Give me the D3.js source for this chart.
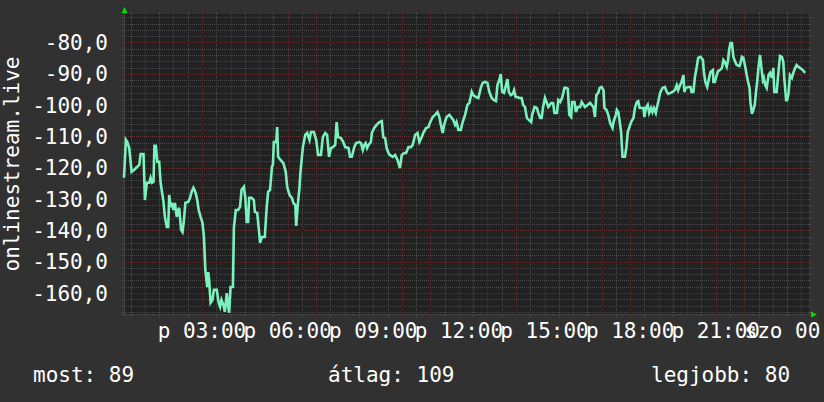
<!DOCTYPE html>
<html><head><meta charset="utf-8">
<script src="https://cdn.jsdelivr.net/npm/d3@7"></script>
<style>html,body{margin:0;padding:0;background:#313131;overflow:hidden}svg{display:block}</style>
</head><body>
<svg id="chart" width="824" height="402"></svg>
<script>
// ---- data (minutes since midnight, signal value) ----
const minutes = [16,20,23,27,32,37,44,48,51,57,60,64,69,72,75,78,80,83,86,90,93,99,102,106,109,111,114,116,120,123,127,130,132,136,139,142,145,151,155,158,162,166,170,173,177,181,184,187,191,193,195,198,202,205,211,215,218,221,225,228,232,235,237,240,245,247,251,256,260,263,268,271,274,277,279,284,289,291,296,300,302,306,312,316,319,323,327,329,331,336,338,340,345,351,356,359,364,369,372,376,378,381,385,387,392,397,401,406,409,415,420,424,430,434,439,443,447,451,455,460,463,466,472,477,481,488,491,495,500,504,511,514,518,521,524,527,530,535,537,542,547,553,558,561,565,568,572,575,581,586,591,596,600,605,609,614,619,623,628,633,637,642,645,651,656,659,665,670,675,679,682,686,689,694,700,705,708,712,715,719,724,728,733,738,742,747,750,756,761,766,770,775,780,784,789,794,798,801,805,808,811,815,819,822,825,829,833,836,839,843,847,852,855,859,863,867,872,874,879,884,887,891,894,897,901,905,908,914,918,921,926,929,933,937,942,946,949,952,956,958,963,966,970,975,978,982,985,991,996,999,1003,1006,1009,1013,1016,1020,1024,1026,1030,1034,1038,1043,1045,1050,1052,1055,1057,1061,1064,1069,1072,1075,1080,1083,1087,1090,1094,1097,1100,1104,1108,1110,1113,1117,1120,1124,1127,1130,1134,1136,1139,1143,1148,1153,1157,1160,1165,1169,1174,1178,1181,1185,1188,1192,1194,1197,1202,1207,1209,1213,1216,1220,1223,1228,1233,1235,1238,1242,1246,1249,1254,1255,1258,1262,1265,1269,1273,1276,1279,1283,1286,1288,1291,1294,1297,1301,1304,1310,1312,1315,1318,1322,1325,1328,1331,1333,1336,1339,1342,1345,1347,1350,1353,1356,1359,1361,1364,1367,1371,1374,1378,1381,1383,1388,1392,1395,1399,1402,1404,1408,1410,1413,1416,1420,1423,1427,1430,1434,1437,1443,1446,1448];
const values = [-123.2,-111.1,-111.8,-113.7,-121.3,-120.7,-119.7,-119.1,-115.6,-115.6,-130.3,-124.8,-124.8,-123.2,-124.8,-124.5,-113.0,-113.0,-118.1,-118.1,-124.8,-130.9,-135.7,-138.9,-138.9,-128.7,-132.5,-131.2,-133.5,-131.2,-135.7,-133.5,-132.8,-139.8,-140.5,-136.7,-131.2,-130.9,-129.6,-127.7,-126.4,-127.7,-130.3,-133.5,-135.7,-137.6,-142.1,-152.6,-158.1,-153.3,-155.8,-163.1,-162.2,-159.0,-159.0,-163.1,-164.4,-162.2,-163.8,-166.0,-160.0,-164.4,-166.3,-158.1,-158.1,-139.2,-133.5,-133.5,-132.5,-127.1,-126.1,-129.6,-137.3,-137.3,-129.6,-129.6,-130.3,-134.1,-134.4,-140.5,-144.0,-142.1,-142.1,-132.5,-127.7,-127.1,-119.7,-119.1,-111.8,-111.8,-107.0,-116.5,-117.5,-118.5,-121.3,-126.1,-128.7,-129.6,-131.2,-131.9,-138.6,-132.5,-126.1,-121.3,-113.4,-109.5,-108.9,-111.1,-108.6,-108.6,-111.1,-115.9,-115.9,-110.2,-108.9,-109.5,-116.5,-113.7,-113.4,-112.7,-105.4,-110.2,-110.5,-111.8,-113.4,-113.7,-116.5,-116.5,-113.4,-112.1,-111.8,-112.1,-114.3,-112.7,-112.1,-113.7,-112.7,-111.8,-108.9,-107.3,-106.3,-105.4,-105.1,-110.2,-110.5,-113.7,-115.3,-115.9,-116.5,-115.9,-117.5,-120.1,-115.9,-115.3,-115.3,-113.4,-113.4,-112.7,-109.5,-108.9,-111.8,-110.2,-108.9,-107.3,-107.0,-105.7,-103.8,-103.1,-102.2,-103.8,-106.3,-108.9,-106.3,-103.8,-103.1,-104.1,-104.7,-106.3,-105.4,-107.9,-107.9,-105.4,-103.1,-99.9,-99.3,-95.8,-96.8,-97.4,-97.7,-94.5,-92.9,-92.6,-92.9,-95.8,-97.7,-98.4,-98.7,-93.6,-92.0,-90.1,-95.8,-96.1,-93.6,-91.7,-95.8,-96.8,-96.4,-95.2,-97.4,-97.4,-97.7,-97.7,-99.9,-100.6,-104.1,-104.7,-105.4,-103.1,-100.6,-100.9,-102.5,-104.1,-104.1,-100.6,-97.7,-99.3,-100.6,-99.3,-99.3,-102.5,-102.5,-98.4,-99.0,-97.7,-94.5,-94.5,-94.8,-103.1,-103.8,-99.0,-99.0,-102.2,-100.6,-100.6,-99.0,-99.9,-100.6,-99.9,-99.3,-99.9,-100.6,-103.8,-96.8,-96.1,-94.5,-94.2,-95.2,-100.9,-101.5,-103.1,-105.7,-107.3,-105.4,-103.1,-101.5,-102.2,-104.1,-108.6,-116.5,-116.5,-113.7,-108.6,-106.3,-105.1,-104.1,-100.9,-99.0,-98.7,-100.9,-100.9,-100.9,-103.8,-100.9,-99.9,-102.5,-100.9,-102.2,-100.9,-102.5,-100.9,-99.0,-96.1,-94.5,-94.2,-95.8,-96.4,-96.1,-95.8,-95.2,-93.6,-95.2,-93.6,-92.6,-90.4,-95.8,-94.5,-94.2,-94.2,-95.8,-95.8,-91.3,-87.8,-84.9,-84.6,-85.6,-89.4,-92.6,-94.2,-91.3,-89.4,-88.8,-92.6,-92.6,-90.4,-89.1,-88.8,-88.1,-85.6,-86.2,-87.8,-85.6,-82.4,-80.2,-80.2,-84.6,-86.2,-87.2,-87.5,-86.5,-84.6,-84.9,-87.8,-90.4,-92.6,-94.5,-99.3,-102.8,-101.5,-99.9,-95.2,-92.6,-87.8,-84.0,-88.1,-92.0,-91.3,-93.6,-94.5,-90.4,-89.7,-91.3,-88.1,-95.8,-95.8,-89.1,-84.3,-84.6,-86.2,-91.3,-98.4,-98.4,-96.1,-90.4,-91.3,-89.7,-88.1,-87.2,-87.8,-88.1,-88.8,-89.4,-89.7];
const yTicks = [-80,-90,-100,-110,-120,-130,-140,-150,-160];
const xLabelMinutes = [180,360,540,720,900,1080,1260,1440];
const xLabels = ["p 03:00","p 06:00","p 09:00","p 12:00","p 15:00","p 18:00","p 21:00","szo 00:00"];
const yTitle = "onlinestream.live";
const legendNames = ["most","átlag","legjobb"];
const legendValues = [89,109,80];

// ---- layout ----
const L = 124, R = 809, T = 14, B = 314;
const FONT = "'DejaVu Sans Mono', monospace";
const svg = d3.select("#chart");
svg.append("rect").attr("width",824).attr("height",402).attr("fill","#313131");

const x = d3.scaleLinear().domain([16, 1456]).range([L, R]);
const y = d3.scaleLinear().domain([-166.7, -70.9]).range([B, T]);
const px = v => Math.round(v) + 0.5;

svg.append("rect").attr("x",L).attr("y",T).attr("width",R-L).attr("height",B-T).attr("fill","#212121");

const gridMinor = "#4a4a4a", gridMajor = "#5a3030";
const g = svg.append("g").attr("shape-rendering","crispEdges");

const hMinor = d3.range(-166, -71, 2).filter(v => v % 10 !== 0);
const hMajor = d3.range(-160, -71, 10);
const vMinor = d3.range(30, 1456, 30).filter(m => m > 16 && m % 60 !== 0);
const vMajor = d3.range(60, 1456, 60).filter(m => m > 16);

function hLines(vals, col){
  vals.forEach(v => {
    const yy = px(y(v));
    g.append("line").attr("x1",L).attr("x2",R).attr("y1",yy).attr("y2",yy)
      .attr("stroke",col).attr("stroke-dasharray","1,1");
    g.append("line").attr("x1",L-2).attr("x2",L).attr("y1",yy).attr("y2",yy).attr("stroke",col);
    g.append("line").attr("x1",R).attr("x2",R+2).attr("y1",yy).attr("y2",yy).attr("stroke",col);
  });
}
function vLines(vals, col){
  vals.forEach(m => {
    const xx = px(x(m));
    g.append("line").attr("x1",xx).attr("x2",xx).attr("y1",T).attr("y2",B)
      .attr("stroke",col).attr("stroke-dasharray","1,1");
    g.append("line").attr("x1",xx).attr("x2",xx).attr("y1",T-2).attr("y2",T).attr("stroke",col);
    g.append("line").attr("x1",xx).attr("x2",xx).attr("y1",B).attr("y2",B+3).attr("stroke",col);
  });
}
hLines(hMinor, gridMinor); vLines(vMinor, gridMinor);
hLines(hMajor, gridMajor); vLines(vMajor, gridMajor);

// axes
svg.append("line").attr("x1",L-3).attr("x2",R+3).attr("y1",B+0.5).attr("y2",B+0.5).attr("stroke","#444444");
svg.append("line").attr("x1",L+0.5).attr("x2",L+0.5).attr("y1",B+3).attr("y2",T-3).attr("stroke","#444444");
svg.append("path").attr("d",`M${L-2.5},${T-1}L${L+3.5},${T-1}L${L+0.5},${T-7}Z`).attr("fill","#00dd00");
svg.append("path").attr("d",`M${R+2},${B-2.5}L${R+2},${B+3.5}L${R+8},${B+0.5}Z`).attr("fill","#00dd00");

// line
const line = d3.line().x((d,i) => x(minutes[i])).y(d => y(d));
svg.append("path").datum(values).attr("d", line).attr("fill","none")
  .attr("stroke","#7af2bd").attr("stroke-width",2.6).attr("stroke-linejoin","miter");

// y tick labels
svg.append("g").selectAll("text").data(yTicks).join("text")
  .attr("x",108).attr("y",d => y(d)).attr("dy","0.36em").attr("text-anchor","end")
  .attr("font-family",FONT).attr("font-size",21).attr("fill","#ffffff")
  .text(d => d3.format(".1f")(d).replace("\u2212","-").replace(".",","));

// x labels
svg.append("g").selectAll("text").data(xLabelMinutes).join("text")
  .attr("x",d => x(d)).attr("y",338).attr("text-anchor","middle")
  .attr("font-family",FONT).attr("font-size",21).attr("fill","#ffffff")
  .text((d,i) => xLabels[i]);

// y title
svg.append("text").attr("transform","translate(19,164) rotate(-90)").attr("text-anchor","middle")
  .attr("font-family",FONT).attr("font-size",21).attr("fill","#ffffff").text(yTitle);

// legend
const legendX = [33, 328, 651];
svg.append("g").selectAll("text").data(legendNames).join("text")
  .attr("x",(d,i) => legendX[i]).attr("y",382)
  .attr("font-family",FONT).attr("font-size",21).attr("fill","#ffffff")
  .text((d,i) => `${d}: ${legendValues[i]}`);
</script>
</body></html>
